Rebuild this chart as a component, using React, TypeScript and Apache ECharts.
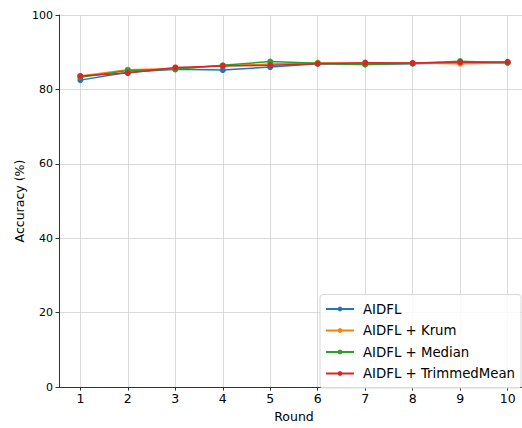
import React, { useEffect, useRef } from "react";
import * as echarts from "echarts";

const rounds = [1, 2, 3, 4, 5, 6, 7, 8, 9, 10];
const aidfl = [82.5, 84.6, 85.4, 85.2, 86.0, 86.9, 86.7, 86.9, 87.2, 87.3];
const krum = [83.6, 85.3, 85.6, 86.4, 86.8, 87.2, 87.0, 87.1, 86.9, 87.1];
const median = [83.3, 85.1, 85.4, 86.5, 87.5, 87.0, 86.7, 87.0, 87.6, 87.2];
const trimmedMean = [83.6, 84.4, 85.9, 86.3, 86.5, 86.9, 87.2, 87.1, 87.3, 87.4];
const yTicks = [0, 20, 40, 60, 80, 100];

const seriesDefs = [
  { name: "AIDFL", data: aidfl, color: "#1f77b4" },
  { name: "AIDFL + Krum", data: krum, color: "#ff7f0e" },
  { name: "AIDFL + Median", data: median, color: "#2ca02c" },
  { name: "AIDFL + TrimmedMean", data: trimmedMean, color: "#d62728" },
];

export default function App() {
  const ref = useRef<HTMLDivElement>(null);
  useEffect(() => {
    if (!ref.current) return;
    const chart = echarts.init(ref.current, null, { renderer: "svg" });
    const font = "DejaVu Sans";
    chart.setOption({
      animation: false,
      backgroundColor: "#ffffff",
      textStyle: { fontFamily: font },
      grid: { left: 59, top: 15, width: 470, height: 373, containLabel: false },
      xAxis: {
        type: "value",
        min: 0.55,
        max: 10.45,
        name: "Round",
        nameLocation: "middle",
        nameGap: 22,
        nameTextStyle: { fontFamily: font, fontSize: 12.5, color: "#000" },
        axisLine: { show: true, onZero: false, lineStyle: { color: "#333", width: 1 } },
        axisTick: { show: true, length: 3.5, lineStyle: { color: "#333" }, customValues: rounds },
        axisLabel: { fontFamily: font, fontSize: 12.5, color: "#000", margin: 5, customValues: rounds },
        splitLine: { show: true, lineStyle: { color: "#d0d0d0", width: 0.8 } },
      },
      yAxis: {
        type: "value",
        min: yTicks[0],
        max: yTicks[yTicks.length - 1],
        interval: 20,
        name: "Accuracy (%)",
        nameLocation: "middle",
        nameGap: 33,
        nameMoveOverlap: false,
        nameTextStyle: { fontFamily: font, fontSize: 12.5, color: "#000" },
        axisLine: { show: true, lineStyle: { color: "#333", width: 1 } },
        axisTick: { show: true, length: 3.5, lineStyle: { color: "#333" } },
        axisLabel: { fontFamily: font, fontSize: 11, color: "#000", margin: 6 },
        splitLine: { show: true, lineStyle: { color: "#d0d0d0", width: 0.8 } },
      },
      legend: {
        orient: "vertical",
        right: 9,
        bottom: 40,
        itemWidth: 28,
        itemHeight: 6,
        itemGap: 8.5,
        padding: [8, 6, 8, 5],
        backgroundColor: "rgba(255,255,255,0.85)",
        borderColor: "#d8d8d8",
        borderWidth: 1,
        borderRadius: 3,
        textStyle: { fontFamily: font, fontSize: 13.3, color: "#000", padding: [0, 0, 0, 4] },
        data: seriesDefs.map((s) => s.name),
      },
      series: seriesDefs.map((s) => ({
        name: s.name,
        type: "line",
        data: rounds.map((r, i) => [r, s.data[i]]),
        color: s.color,
        symbol: "circle",
        symbolSize: 6,
        lineStyle: { width: 1.5, color: s.color },
        itemStyle: { color: s.color },
      })),
    });
    return () => chart.dispose();
  }, []);
  return (
    <div style={{ position: "absolute", left: 0, top: 0, width: 522, height: 428, overflow: "hidden" }}>
      <div ref={ref} style={{ width: 530, height: 428 }} />
    </div>
  );
}
